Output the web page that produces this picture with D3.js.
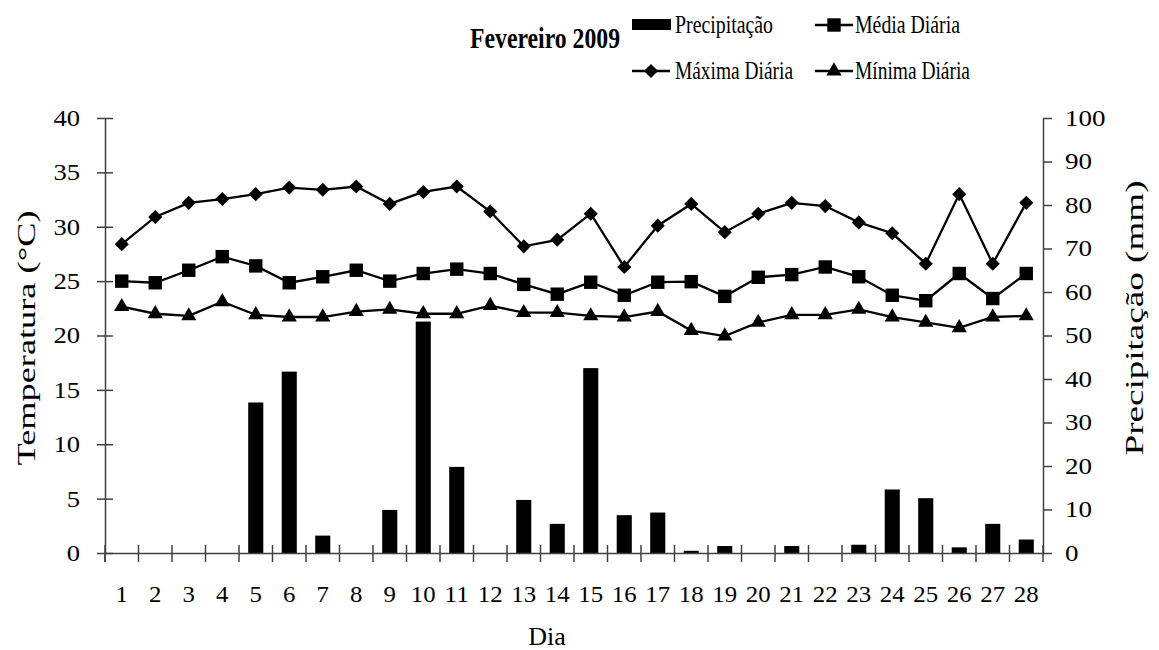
<!DOCTYPE html>
<html><head><meta charset="utf-8">
<script src="https://cdn.jsdelivr.net/npm/d3@7"></script>
<style>
body{margin:0;background:#fff;}
svg{display:block;font-family:"Liberation Serif","Times New Roman",serif;}
</style></head>
<body>
<svg id="c" width="1159" height="650"></svg>
<script>
const days = d3.range(1, 29).map(String);
const precipitacao = [0,0,0,0,34.6,41.7,4.0,0,9.9,53.2,19.8,0,12.2,6.7,42.5,8.7,9.3,0.5,1.6,0,1.6,0,1.9,14.6,12.6,1.3,6.7,3.1];
const media = [25.0,24.85,26.0,27.25,26.4,24.85,25.4,26.0,25.0,25.7,26.1,25.7,24.7,23.8,24.9,23.7,24.9,24.95,23.6,25.35,25.6,26.3,25.4,23.7,23.2,25.7,23.4,25.7];
const maxima = [28.4,30.9,32.2,32.55,33.0,33.6,33.4,33.7,32.1,33.2,33.7,31.4,28.2,28.8,31.2,26.3,30.1,32.1,29.5,31.2,32.2,31.9,30.4,29.4,26.6,33.0,26.6,32.2];
const minima = [22.65,22.0,21.8,23.1,21.9,21.7,21.7,22.2,22.4,22.0,22.0,22.75,22.1,22.1,21.8,21.7,22.2,20.45,19.95,21.2,21.9,21.9,22.4,21.7,21.2,20.7,21.7,21.8];
const tempTicks = [0,5,10,15,20,25,30,35,40];
const precTicks = [0,10,20,30,40,50,60,70,80,90,100];
const title = "Fevereiro 2009";
const legendLabels = ["Precipitação","Média Diária","Máxima Diária","Mínima Diária"];

const svg = d3.select("#c");
const L = 105, R = 1043, T = 118, B = 553;
const x = d3.scaleBand().domain(days).range([L, R]).padding(0);
const yT = d3.scaleLinear().domain([0, 40]).range([B, T]);
const yP = d3.scaleLinear().domain([0, 100]).range([B, T]);
const axisColor = "#404040";

// bars
const bw = x.bandwidth() * 0.45;
svg.append("g").selectAll("rect").data(precipitacao).join("rect")
  .attr("x", (d, i) => x(days[i]) + x.bandwidth() / 2 - bw / 2)
  .attr("y", d => yP(d))
  .attr("width", bw)
  .attr("height", d => B - yP(d))
  .attr("fill", "#000");

// axes
const fs = 23;
const gL = svg.append("g").attr("transform", `translate(${L},0)`)
  .call(d3.axisLeft(yT).tickValues(tempTicks).tickSize(8).tickSizeOuter(0).tickPadding(17));
gL.selectAll(".tick line").attr("x2", -8).attr("x1", 8);
const gR = svg.append("g").attr("transform", `translate(${R},0)`)
  .call(d3.axisRight(yP).tickValues(precTicks).tickSize(9).tickSizeOuter(0).tickPadding(13));
const gB = svg.append("g").attr("transform", `translate(0,${B})`)
  .call(d3.axisBottom(x).tickSize(0).tickSizeOuter(0).tickPadding(33));
const bounds = d3.range(0, days.length + 1).map(i => L + i * x.step());
svg.append("g").selectAll("line").data(bounds).join("line")
  .attr("x1", d => d).attr("x2", d => d).attr("y1", B - 8).attr("y2", B + 9)
  .attr("stroke", axisColor).attr("stroke-width", 1.5);
svg.append("line").attr("x1", L).attr("x2", L).attr("y1", B).attr("y2", B + 9)
  .attr("stroke", axisColor).attr("stroke-width", 1.5);

[gL, gR, gB].forEach(g => {
  g.selectAll(".domain").attr("stroke", axisColor).attr("stroke-width", 1.5);
  g.selectAll(".tick line").attr("stroke", axisColor).attr("stroke-width", 1.5);
  g.selectAll("text").attr("font-size", fs).attr("font-family", "Liberation Serif").attr("fill", "#000")
    .attr("lengthAdjust", "spacingAndGlyphs");
});
gL.selectAll("text").attr("textLength", function () { return this.textContent.length * 13.3; });
gR.selectAll("text").attr("textLength", function () { return this.textContent.length * 13.5; });
gB.selectAll("text").attr("textLength", function () { return this.textContent.length * 12.4; });

// lines
const lineGen = arr => d3.line().x((d, i) => x(days[i]) + x.bandwidth() / 2).y(d => yT(d))(arr);
[maxima, media, minima].forEach(arr => {
  svg.append("path").attr("d", lineGen(arr)).attr("fill", "none").attr("stroke", "#000").attr("stroke-width", 2.3);
});
const sq = d3.symbol().type(d3.symbolSquare).size(180)();
const tri = d3.symbol().type(d3.symbolTriangle).size(100)();
const diamondPath = d3.symbol().type(d3.symbolSquare).size(100)();
function markers(arr, path, rot) {
  svg.append("g").selectAll("path").data(arr).join("path")
    .attr("d", path)
    .attr("transform", (d, i) => `translate(${x(days[i]) + x.bandwidth() / 2},${yT(d)})${rot ? " rotate(45)" : ""}`)
    .attr("fill", "#000");
}
markers(maxima, diamondPath, true);
markers(media, sq, false);
markers(minima, tri, false);

// axis titles
svg.append("text").attr("transform", "translate(35,338) rotate(-90)")
  .attr("text-anchor", "middle").attr("font-size", 26)
  .attr("textLength", 255).attr("lengthAdjust", "spacingAndGlyphs")
  .text("Temperatura (°C)");
svg.append("text").attr("transform", "translate(1143,318) rotate(-90)")
  .attr("text-anchor", "middle").attr("font-size", 26)
  .attr("textLength", 275).attr("lengthAdjust", "spacingAndGlyphs")
  .text("Precipitação (mm)");
svg.append("text").attr("x", 547).attr("y", 645).attr("text-anchor", "middle")
  .attr("font-size", 26).text("Dia");

// title
svg.append("text").attr("x", 470).attr("y", 48).attr("font-size", 30).attr("font-weight", "bold")
  .attr("textLength", 150).attr("lengthAdjust", "spacingAndGlyphs").text(title);

// legend
const leg = svg.append("g");
const rows = [
  {sx: 632, y: 25, tx: 675, w: 98, label: legendLabels[0], kind: "bar"},
  {sx: 815, y: 25, tx: 855, w: 105, label: legendLabels[1], kind: "sq"},
  {sx: 632, y: 71, tx: 675, w: 118, label: legendLabels[2], kind: "dia"},
  {sx: 815, y: 71, tx: 855, w: 115, label: legendLabels[3], kind: "tri"}
];
rows.forEach(r => {
  if (r.kind === "bar") {
    leg.append("rect").attr("x", r.sx).attr("y", r.y - 6).attr("width", 39).attr("height", 11).attr("fill", "#000");
  } else {
    leg.append("line").attr("x1", r.sx).attr("x2", r.sx + 38).attr("y1", r.y).attr("y2", r.y)
      .attr("stroke", "#000").attr("stroke-width", 2.3);
    const p = r.kind === "sq" ? sq : r.kind === "tri" ? tri : diamondPath;
    leg.append("path").attr("d", p)
      .attr("transform", `translate(${r.sx + 19},${r.y})${r.kind === "dia" ? " rotate(45)" : ""}`)
      .attr("fill", "#000");
  }
  leg.append("text").attr("x", r.tx).attr("y", r.y + 8).attr("font-size", 26)
    .attr("textLength", r.w).attr("lengthAdjust", "spacingAndGlyphs").text(r.label);
});
</script>
</body></html>
